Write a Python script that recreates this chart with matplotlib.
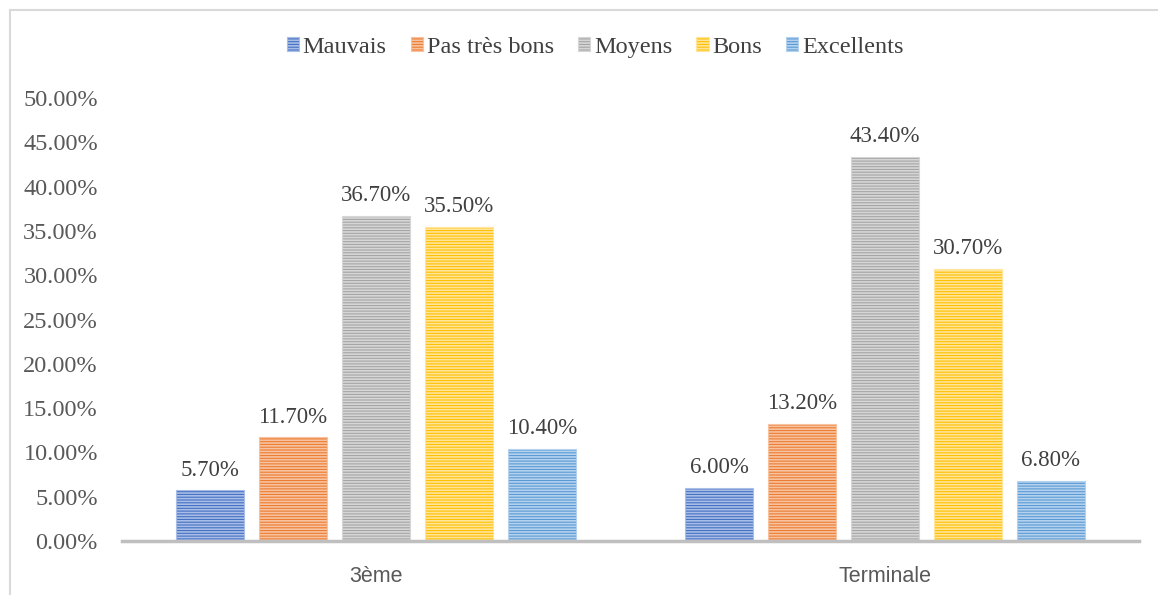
import matplotlib
matplotlib.use("Agg")
import matplotlib.pyplot as plt
from matplotlib.lines import Line2D
import numpy as np

categories = ["3ème", "Terminale"]
series = ["Mauvais", "Pas très bons", "Moyens", "Bons", "Excellents"]
values = {
    "Mauvais": [5.70, 6.00],
    "Pas très bons": [11.70, 13.20],
    "Moyens": [36.70, 43.40],
    "Bons": [35.50, 30.70],
    "Excellents": [10.40, 6.80],
}
colors = ["#4472C4", "#ED7D31", "#A5A5A5", "#FFC000", "#5B9BD5"]
hatch_colors = ["#A9BDE6", "#F6C2A0", "#D6D6D6", "#FFE499", "#B4D1EE"]
yticks = [0, 5, 10, 15, 20, 25, 30, 35, 40, 45, 50]

plt.rcParams['hatch.linewidth'] = 1.2
fig = plt.figure(figsize=(11.58, 5.95), dpi=100)
ax = fig.add_axes([0.105, 0.091, 0.879, 0.744])

x = np.arange(len(categories))
pitch = 0.163
width = 0.133
serif = "Liberation Serif"
for i, s in enumerate(series):
    pos = x + (i - 2) * pitch
    bars = ax.bar(pos, values[s], width=width, color=colors[i],
                  edgecolor=hatch_colors[i], linewidth=0.8, hatch='------', label=s)
    for b, v in zip(bars, values[s]):
        ax.text(b.get_x() + b.get_width() / 2, v + 1.1, f"{v:.2f}%",
                ha='center', va='bottom', fontsize=16.5, family=serif, color='#404040')

ax.set_xlim(-0.5, 1.5)
ax.set_ylim(0, 50)
ax.set_yticks(yticks)
ax.set_yticklabels([f"{t:.2f}%" for t in yticks], fontsize=17.5, family=serif, color='#595959')
ax.set_xticks(x)
ax.set_xticklabels(categories, fontsize=15.5, family="Liberation Sans", color='#595959')
ax.tick_params(axis='both', length=0)
ax.tick_params(axis='y', pad=17)
ax.tick_params(axis='x', pad=18)
for sp in ['top', 'right', 'left']:
    ax.spines[sp].set_visible(False)
ax.spines['bottom'].set_color('#BFBFBF')
ax.spines['bottom'].set_linewidth(2.5)

leg = fig.legend(loc='center', bbox_to_anchor=(0.514, 0.921), ncol=5, frameon=False,
                 prop={'family': serif, 'size': 17.5}, handlelength=0.5, handleheight=0.5,
                 handletextpad=0.15, columnspacing=1.0, labelcolor='#404040')

W, H = 1158, 595
fig.lines.append(Line2D([10 / W, 1.0], [1 - 10 / H, 1 - 10 / H], transform=fig.transFigure,
                        color='#D9D9D9', linewidth=1.5))
fig.lines.append(Line2D([10 / W, 10 / W], [0.0, 1 - 10 / H], transform=fig.transFigure,
                        color='#D9D9D9', linewidth=1.5))
fig.savefig("out.png", dpi=100)
